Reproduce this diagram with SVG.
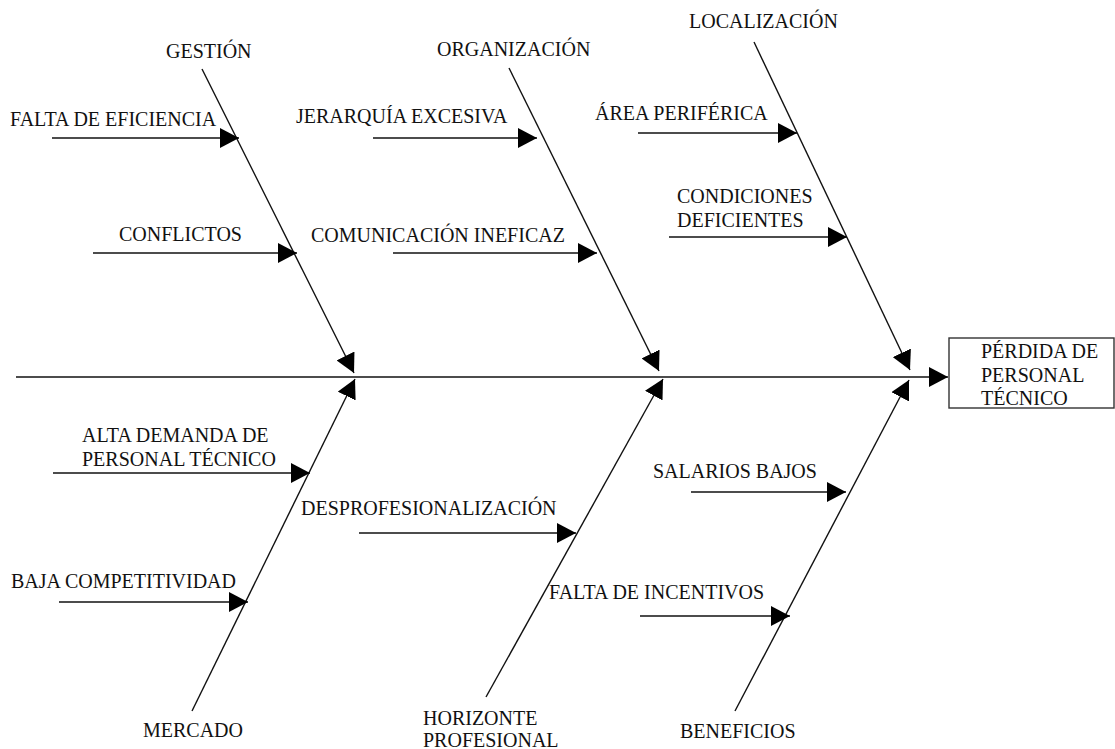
<svg xmlns="http://www.w3.org/2000/svg" width="1115" height="749" viewBox="0 0 1115 749">
<style>
text{font-family:"Liberation Serif","Times New Roman",serif;font-size:20px;fill:#111}
.ln{stroke:#111;stroke-width:1.4;fill:none}
.box{fill:#fff;stroke:#333;stroke-width:1.4}
</style>
<defs>
<marker id="ah" viewBox="0 0 19 20" refX="19" refY="10" markerWidth="19" markerHeight="20" markerUnits="userSpaceOnUse" orient="auto">
<path d="M0,0 L19,10 L0,20 Z" fill="#000"/>
</marker>
</defs>
<rect width="1115" height="749" fill="#fff"/>
<g id="connectors">
<line class="ln" x1="16" y1="377" x2="948" y2="377" marker-end="url(#ah)"/>
<line class="ln" x1="202" y1="69" x2="354" y2="373" marker-end="url(#ah)"/>
<line class="ln" x1="509" y1="68" x2="659" y2="371" marker-end="url(#ah)"/>
<line class="ln" x1="754" y1="42" x2="910" y2="370" marker-end="url(#ah)"/>
<line class="ln" x1="192" y1="711" x2="355" y2="379" marker-end="url(#ah)"/>
<line class="ln" x1="486" y1="697" x2="663" y2="379" marker-end="url(#ah)"/>
<line class="ln" x1="735" y1="711" x2="909" y2="380" marker-end="url(#ah)"/>
<line class="ln" x1="52" y1="138" x2="239" y2="138" marker-end="url(#ah)"/>
<line class="ln" x1="93" y1="253" x2="297" y2="253" marker-end="url(#ah)"/>
<line class="ln" x1="373" y1="138" x2="537" y2="138" marker-end="url(#ah)"/>
<line class="ln" x1="393" y1="253" x2="597" y2="253" marker-end="url(#ah)"/>
<line class="ln" x1="638" y1="133" x2="797" y2="133" marker-end="url(#ah)"/>
<line class="ln" x1="669" y1="237" x2="847" y2="237" marker-end="url(#ah)"/>
<line class="ln" x1="53" y1="473" x2="310" y2="473" marker-end="url(#ah)"/>
<line class="ln" x1="59" y1="602" x2="248" y2="602" marker-end="url(#ah)"/>
<line class="ln" x1="359" y1="533" x2="576" y2="533" marker-end="url(#ah)"/>
<line class="ln" x1="691" y1="492" x2="846" y2="492" marker-end="url(#ah)"/>
<line class="ln" x1="640" y1="616" x2="790" y2="616" marker-end="url(#ah)"/>
</g>
<g id="effect">
<rect class="box" x="949" y="338" width="165" height="70"/>
<text x="981" y="358">PÉRDIDA DE</text>
<text x="981" y="382">PERSONAL</text>
<text x="981" y="405">TÉCNICO</text>
</g>
<g id="cat-gestion"><text x="166" y="58">GESTIÓN</text></g>
<g id="cat-organizacion"><text x="437" y="56">ORGANIZACIÓN</text></g>
<g id="cat-localizacion"><text x="689" y="28">LOCALIZACIÓN</text></g>
<g id="cat-mercado"><text x="143" y="737">MERCADO</text></g>
<g id="cat-horizonte"><text x="423" y="725">HORIZONTE</text><text x="423" y="747">PROFESIONAL</text></g>
<g id="cat-beneficios"><text x="680" y="738">BENEFICIOS</text></g>
<g id="c-falta-eficiencia"><text x="10" y="126">FALTA DE EFICIENCIA</text></g>
<g id="c-conflictos"><text x="119" y="241">CONFLICTOS</text></g>
<g id="c-jerarquia"><text x="296" y="123">JERARQUÍA EXCESIVA</text></g>
<g id="c-comunicacion"><text x="311" y="242">COMUNICACIÓN INEFICAZ</text></g>
<g id="c-area"><text x="595" y="120">ÁREA PERIFÉRICA</text></g>
<g id="c-condiciones"><text x="677" y="203">CONDICIONES</text><text x="677" y="227">DEFICIENTES</text></g>
<g id="c-alta-demanda"><text x="82" y="442">ALTA DEMANDA DE</text><text x="82" y="466">PERSONAL TÉCNICO</text></g>
<g id="c-baja"><text x="11" y="588">BAJA COMPETITIVIDAD</text></g>
<g id="c-desprof"><text x="301" y="515">DESPROFESIONALIZACIÓN</text></g>
<g id="c-salarios"><text x="653" y="478">SALARIOS BAJOS</text></g>
<g id="c-incentivos"><text x="549" y="599">FALTA DE INCENTIVOS</text></g>
</svg>
